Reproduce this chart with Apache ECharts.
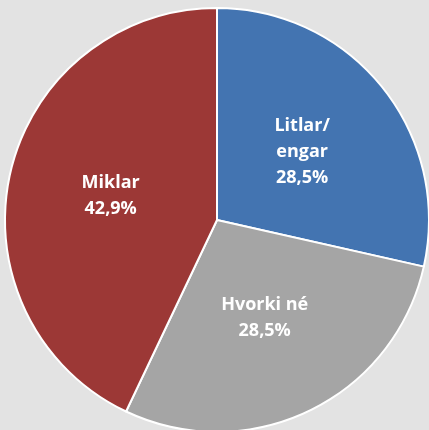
<!DOCTYPE html>
<html>
<head>
<meta charset="UTF-8">
<script src="https://cdn.jsdelivr.net/npm/echarts@6/dist/echarts.min.js"></script>
<title>Pie</title>
<style>
  html, body { margin: 0; padding: 0; background: #e3e3e3; }
  #main { width: 429px; height: 430px; }
</style>
</head>
<body>
<div id="main"></div>
<script type="text/javascript">
    // data
    var categories = ['Litlar/\nengar', 'Hvorki né', 'Miklar'];
    var values = [28.5, 28.5, 42.9];
    var colors = ['#4374b1', '#a5a5a5', '#9c3836'];

    var pieData = [];
    for (var i = 0; i < categories.length; i++) {
        pieData.push({ name: categories[i], value: values[i], itemStyle: { color: colors[i] } });
    }

    var myChart = echarts.init(document.getElementById('main'));
    myChart.setOption({
        backgroundColor: '#e3e3e3',
        animation: false,
        series: [
            {
                type: 'pie',
                center: [217, 220],
                radius: 212,
                startAngle: 90,
                clockwise: true,
                data: pieData,
                itemStyle: {
                    borderColor: '#ffffff',
                    borderWidth: 2
                },
                label: {
                    show: true,
                    position: 'inside',
                    color: '#ffffff',
                    fontFamily: 'Open Sans',
                    fontWeight: 'bold',
                    fontSize: 18,
                    lineHeight: 26,
                    formatter: function (p) {
                        return p.name + '\n' + p.value.toFixed(1).replace('.', ',') + '%';
                    }
                },
                labelLine: { show: false }
            }
        ]
    });
</script>
</body>
</html>
